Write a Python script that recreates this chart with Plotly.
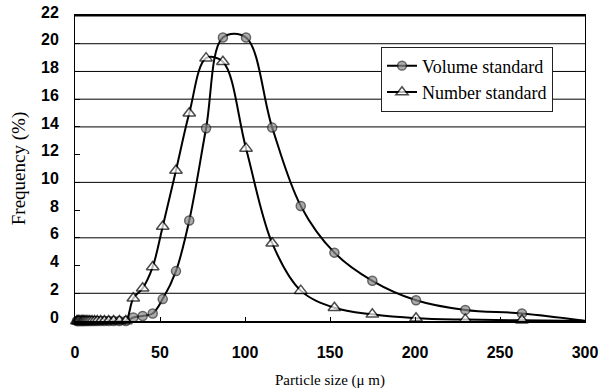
import plotly.graph_objects as go

# ---- data ----
particle_size = [1.1, 1.7, 2.2, 2.9, 3.8, 4.4, 5.0, 5.8, 6.6, 7.6, 8.7, 10.0, 11.5, 13.1,
                 15.1, 17.3, 19.8, 22.7, 26.1, 29.9,
                 34.3, 39.8, 45.7, 51.6, 59.4, 67.2, 77.1, 87.0, 100.6, 116.0, 132.8,
                 152.6, 174.9, 200.6, 229.6, 262.9, 301.5]
volume_standard = [0, 0, 0, 0, 0, 0, 0, 0, 0, 0, 0, 0, 0, 0, 0, 0, 0, 0, 0, 0,
                   0.25, 0.36, 0.54, 1.58, 3.6, 7.25, 13.9, 20.45, 20.45, 13.95, 8.3,
                   4.93, 2.9, 1.5, 0.8, 0.55, 0.0]
number_standard = [0, 0, 0, 0, 0, 0, 0, 0, 0, 0, 0, 0, 0, 0, 0, 0, 0, 0, 0, 0,
                   1.64, 2.36, 3.9, 6.82, 10.86, 14.98, 18.96, 18.7, 12.45, 5.61, 2.19,
                   0.96, 0.48, 0.2, 0.1, 0.05, 0.0]
series_names = ["Volume standard", "Number standard"]
x_ticks = [0, 50, 100, 150, 200, 250, 300]
y_ticks = [0, 2, 4, 6, 8, 10, 12, 14, 16, 18, 20, 22]
visible_grid = [2, 6, 10, 14, 16, 18, 20, 22]

n = len(particle_size)
sizes_circle = [9] * (n - 1) + [0]
sizes_tri = [11] * (n - 1) + [0]

fig = go.Figure()
fig.add_trace(go.Scatter(
    x=particle_size, y=volume_standard, name=series_names[0],
    mode="lines+markers", line=dict(color="black", width=2, shape="spline", smoothing=1),
    marker=dict(symbol="circle", size=sizes_circle, color="#8a8a8a",
                line=dict(color="#222222", width=1.5)),
    cliponaxis=False))
fig.add_trace(go.Scatter(
    x=particle_size, y=number_standard, name=series_names[1],
    mode="lines+markers", line=dict(color="black", width=2, shape="spline", smoothing=1),
    marker=dict(symbol="triangle-up", size=sizes_tri, color="white",
                line=dict(color="black", width=1.5)),
    cliponaxis=False))

for g in visible_grid:
    fig.add_shape(type="line", xref="paper", x0=0, x1=1, yref="y", y0=g, y1=g,
                  line=dict(color="black", width=1), layer="below")

tick_font = dict(family="Liberation Sans", size=16, color="black", weight="bold")
serif = "Liberation Serif"

fig.update_layout(
    template="none",
    width=604, height=391,
    margin=dict(l=75, r=19, t=16, b=70),
    paper_bgcolor="white", plot_bgcolor="white",
    showlegend=True,
    legend=dict(x=0.6, y=0.9, xanchor="left", yanchor="top",
                bgcolor="white", bordercolor="#222222", borderwidth=1,
                font=dict(family=serif, size=18, color="black")),
    xaxis=dict(range=[0, 300], tickvals=x_ticks, ticks="inside", ticklen=4,
               tickcolor="black", showgrid=False, zeroline=False, automargin=False,
               showline=True, linecolor="black", linewidth=2, mirror=True,
               tickfont=tick_font, ticklabelstandoff=16,
               title=dict(text="Particle size (μ m)", font=dict(family=serif, size=15, color="black"),
                          standoff=14)),
    yaxis=dict(range=[0, 22], tickvals=y_ticks, ticks="inside", ticklen=5,
               tickcolor="black", showgrid=False, zeroline=False, automargin=False,
               showline=True, linecolor="black", linewidth=1, mirror=True,
               tickfont=tick_font, ticklabelstandoff=12, ticklabelshift=-4,
               title=dict(text="Frequency (%)", font=dict(family=serif, size=19, color="black"),
                          standoff=10)),
)

fig.write_html("out.html")
